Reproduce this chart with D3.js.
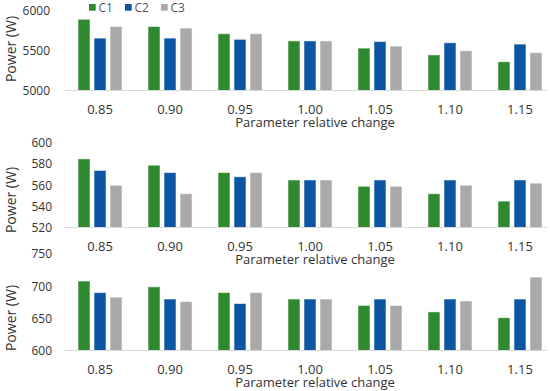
<!DOCTYPE html>
<html>
<head>
<meta charset="utf-8">
<script src="https://cdn.jsdelivr.net/npm/d3@7"></script>
<style>
  body { margin: 0; background: #fff; }
  svg text { font-family: "Open Sans", "Noto Sans", sans-serif; fill: #333; }
</style>
</head>
<body>
<svg id="chart" width="550" height="391"></svg>
<script>
// categories and series
var categories = ["0.85", "0.90", "0.95", "1.00", "1.05", "1.10", "1.15"];
var seriesNames = ["C1", "C2", "C3"];
var colors = ["#2f8a2f", "#0b55a3", "#a9a9a9"];

// panel 1 (power, W)
var p1C1 = [5890, 5800, 5710, 5620, 5530, 5445, 5360];
var p1C2 = [5655, 5655, 5640, 5620, 5612, 5597, 5580];
var p1C3 = [5800, 5780, 5710, 5620, 5555, 5497, 5472];
var p1Ticks = [5000, 5500, 6000];

// panel 2
var p2C1 = [585, 579, 572, 565, 559, 552, 545];
var p2C2 = [574, 572, 568, 565, 565, 565, 565];
var p2C3 = [560, 552, 572, 565, 559, 560, 562];
var p2Ticks = [520, 540, 560, 580, 600];

// panel 3
var p3C1 = [708, 699, 690, 680, 670, 660, 651];
var p3C2 = [690, 680, 673, 680, 680, 680, 680];
var p3C3 = [683, 676, 690, 680, 670, 677, 714];
var p3Ticks = [600, 650, 700, 750];

var panels = [
	{ series: [p1C1, p1C2, p1C3], ticks: p1Ticks, top: 10.5, base: 90.5, labelPad: 15, titleY: 49 },
	{ series: [p2C1, p2C2, p2C3], ticks: p2Ticks, top: 143, base: 227.5, labelPad: 13, titleY: 200 },
	{ series: [p3C1, p3C2, p3C3], ticks: p3Ticks, top: 254, base: 350.5, labelPad: 13, titleY: 318 }
];

var svg = d3.select("#chart");

var x = d3.scaleBand()
	.domain(categories)
	.range([65, 555])
	.paddingInner(0.371)
	.paddingOuter(0.186);

var xInner = d3.scaleBand()
	.domain(seriesNames)
	.range([0, x.bandwidth()])
	.paddingInner(0.25);

panels.forEach(function (p, pi)
{
	var y = d3.scaleLinear()
		.domain([p.ticks[0], p.ticks[p.ticks.length - 1]])
		.range([p.base, p.top]);

	var g = svg.append("g");

	// bars
	seriesNames.forEach(function (s, si)
	{
		g.selectAll(".bar-" + s)
			.data(p.series[si])
			.enter().append("rect")
			.attr("x", function (d, i) { return x(categories[i]) + xInner(s); })
			.attr("y", function (d) { return y(d); })
			.attr("width", xInner.bandwidth())
			.attr("height", function (d) { return y.range()[0] - y(d); })
			.attr("fill", colors[si])
			.attr("stroke", "rgba(255,255,255,0.55)")
			.attr("stroke-width", 1);
	});

	// baseline
	g.append("line")
		.attr("x1", 65).attr("x2", 547)
		.attr("y1", p.base).attr("y2", p.base)
		.attr("stroke", "#d9d9d9")
		.attr("stroke-width", 1);

	// y axis
	var yAxis = g.append("g")
		.attr("transform", "translate(65,0)")
		.call(d3.axisLeft(y).tickValues(p.ticks).tickSize(0).tickPadding(p.labelPad).tickFormat(d3.format("d")));
	yAxis.select(".domain").remove();
	yAxis.selectAll("text").style("font-size", "12px").style("fill", "#333");

	// x axis
	var xAxis = g.append("g")
		.attr("transform", "translate(0," + p.base + ")")
		.call(d3.axisBottom(x).tickSize(0).tickPadding(14.5));
	xAxis.select(".domain").remove();
	xAxis.selectAll("text").style("font-size", "13px").style("fill", "#333");

	// x title
	g.append("text")
		.attr("x", 315)
		.attr("y", p.base + 32)
		.attr("dy", "0.35em")
		.attr("text-anchor", "middle")
		.style("font-size", "13px")
		.text("Parameter relative change");

	// y title
	g.append("text")
		.attr("transform", "translate(11," + p.titleY + ") rotate(-90)")
		.attr("dy", "0.35em")
		.attr("text-anchor", "middle")
		.style("font-size", "14px")
		.text("Power (W)");
});

// legend
var legend = svg.append("g").attr("transform", "translate(89,7.3)");
var items = legend.selectAll("g")
	.data(seriesNames)
	.enter().append("g")
	.attr("transform", function (d, i) { return "translate(" + (i * 36) + ",0)"; });
items.append("rect")
	.attr("x", 0).attr("y", -3.3)
	.attr("width", 6.7).attr("height", 6.7)
	.attr("fill", function (d, i) { return colors[i]; });
items.append("text")
	.attr("x", 9.5)
	.attr("dy", "0.35em")
	.style("font-size", "12px")
	.style("fill", "#555")
	.text(function (d) { return d; });
</script>
</body>
</html>
